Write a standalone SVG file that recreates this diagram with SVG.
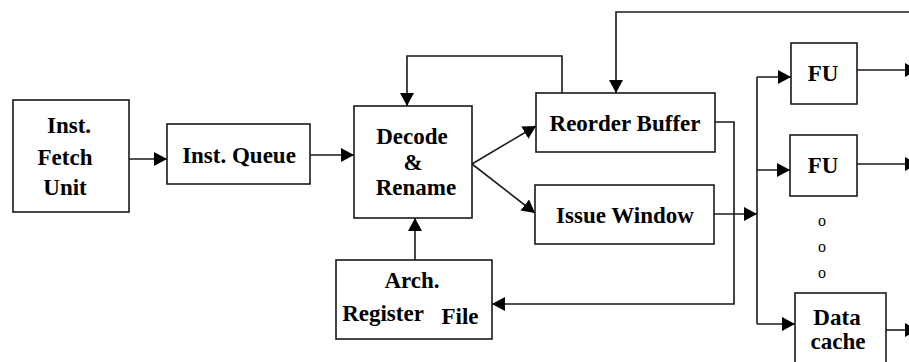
<svg xmlns="http://www.w3.org/2000/svg" width="909" height="362" viewBox="0 0 909 362">
  <style>
    .box { fill: #fff; stroke: #1a1a1a; stroke-width: 1.6; }
    .lbl { font-weight: bold; font-size: 23px; fill: #000; text-anchor: middle; }
    .dot { font-size: 16px; fill: #000; text-anchor: middle; }
    .wire { fill: none; stroke: #1a1a1a; stroke-width: 1.6; }
  </style>
  <defs>
    <marker id="arrow" markerUnits="userSpaceOnUse" markerWidth="14" markerHeight="15" refX="13" refY="7" orient="auto">
      <path d="M0,0 L13,7 L0,14 Z" fill="#000"/>
    </marker>
  </defs>
  <rect width="909" height="362" fill="#fff"/>

  <g id="connectors">
    <path class="wire" d="M129,159 H167" marker-end="url(#arrow)"/>
    <path class="wire" d="M310,155 H354" marker-end="url(#arrow)"/>
    <path class="wire" d="M472,164 L536,126" marker-end="url(#arrow)"/>
    <path class="wire" d="M472,164 L535,213" marker-end="url(#arrow)"/>
    <path class="wire" d="M562,93 V56 H407 V106" marker-end="url(#arrow)"/>
    <path class="wire" d="M415,260 V218" marker-end="url(#arrow)"/>
    <path class="wire" d="M920,12 H616 V93" marker-end="url(#arrow)"/>
    <path class="wire" d="M715,122 H734 V304 H492" marker-end="url(#arrow)"/>
    <path class="wire" d="M714,214 H757" marker-end="url(#arrow)"/>
    <path class="wire" d="M757,77 V324"/>
    <path class="wire" d="M757,77 H791" marker-end="url(#arrow)"/>
    <path class="wire" d="M757,170 H790" marker-end="url(#arrow)"/>
    <path class="wire" d="M757,324 H795" marker-end="url(#arrow)"/>
    <path class="wire" d="M857,70 H918" marker-end="url(#arrow)"/>
    <path class="wire" d="M857,164 H918" marker-end="url(#arrow)"/>
    <path class="wire" d="M886,330 H918" marker-end="url(#arrow)"/>
  </g>

  <g font-family="Liberation Serif, Times New Roman, serif">
    <g id="fetch">
      <rect class="box" x="13" y="100" width="116" height="112"/>
      <text class="lbl" x="69" y="133">Inst.</text>
      <text class="lbl" x="65" y="165">Fetch</text>
      <text class="lbl" x="65" y="195">Unit</text>
    </g>
    <g id="queue">
      <rect class="box" x="167" y="124" width="143" height="60"/>
      <text class="lbl" x="239" y="163">Inst. Queue</text>
    </g>
    <g id="decode">
      <rect class="box" x="354" y="106" width="118" height="112"/>
      <text class="lbl" x="412" y="144">Decode</text>
      <text class="lbl" x="413" y="170">&amp;</text>
      <text class="lbl" x="416" y="195">Rename</text>
    </g>
    <g id="archreg">
      <rect class="box" x="336" y="260" width="156" height="79"/>
      <text class="lbl" x="412" y="288">Arch.</text>
      <text class="lbl" x="383" y="321">Register</text>
      <text class="lbl" x="460" y="324">File</text>
    </g>
    <g id="rob">
      <rect class="box" x="536" y="93" width="179" height="59"/>
      <text class="lbl" x="625" y="131">Reorder Buffer</text>
    </g>
    <g id="issue">
      <rect class="box" x="535" y="185" width="179" height="59"/>
      <text class="lbl" x="625" y="223">Issue Window</text>
    </g>
    <g id="fu1">
      <rect class="box" x="791" y="43" width="66" height="61"/>
      <text class="lbl" x="823" y="81">FU</text>
    </g>
    <g id="fu2">
      <rect class="box" x="790" y="135" width="67" height="61"/>
      <text class="lbl" x="823" y="173">FU</text>
    </g>
    <g id="ellipsis">
      <text class="dot" x="822" y="226">o</text>
      <text class="dot" x="822" y="252">o</text>
      <text class="dot" x="822" y="278">o</text>
    </g>
    <g id="dcache">
      <rect class="box" x="795" y="293" width="91" height="80"/>
      <text class="lbl" x="837" y="325">Data</text>
      <text class="lbl" x="838" y="349">cache</text>
    </g>
  </g>
</svg>
